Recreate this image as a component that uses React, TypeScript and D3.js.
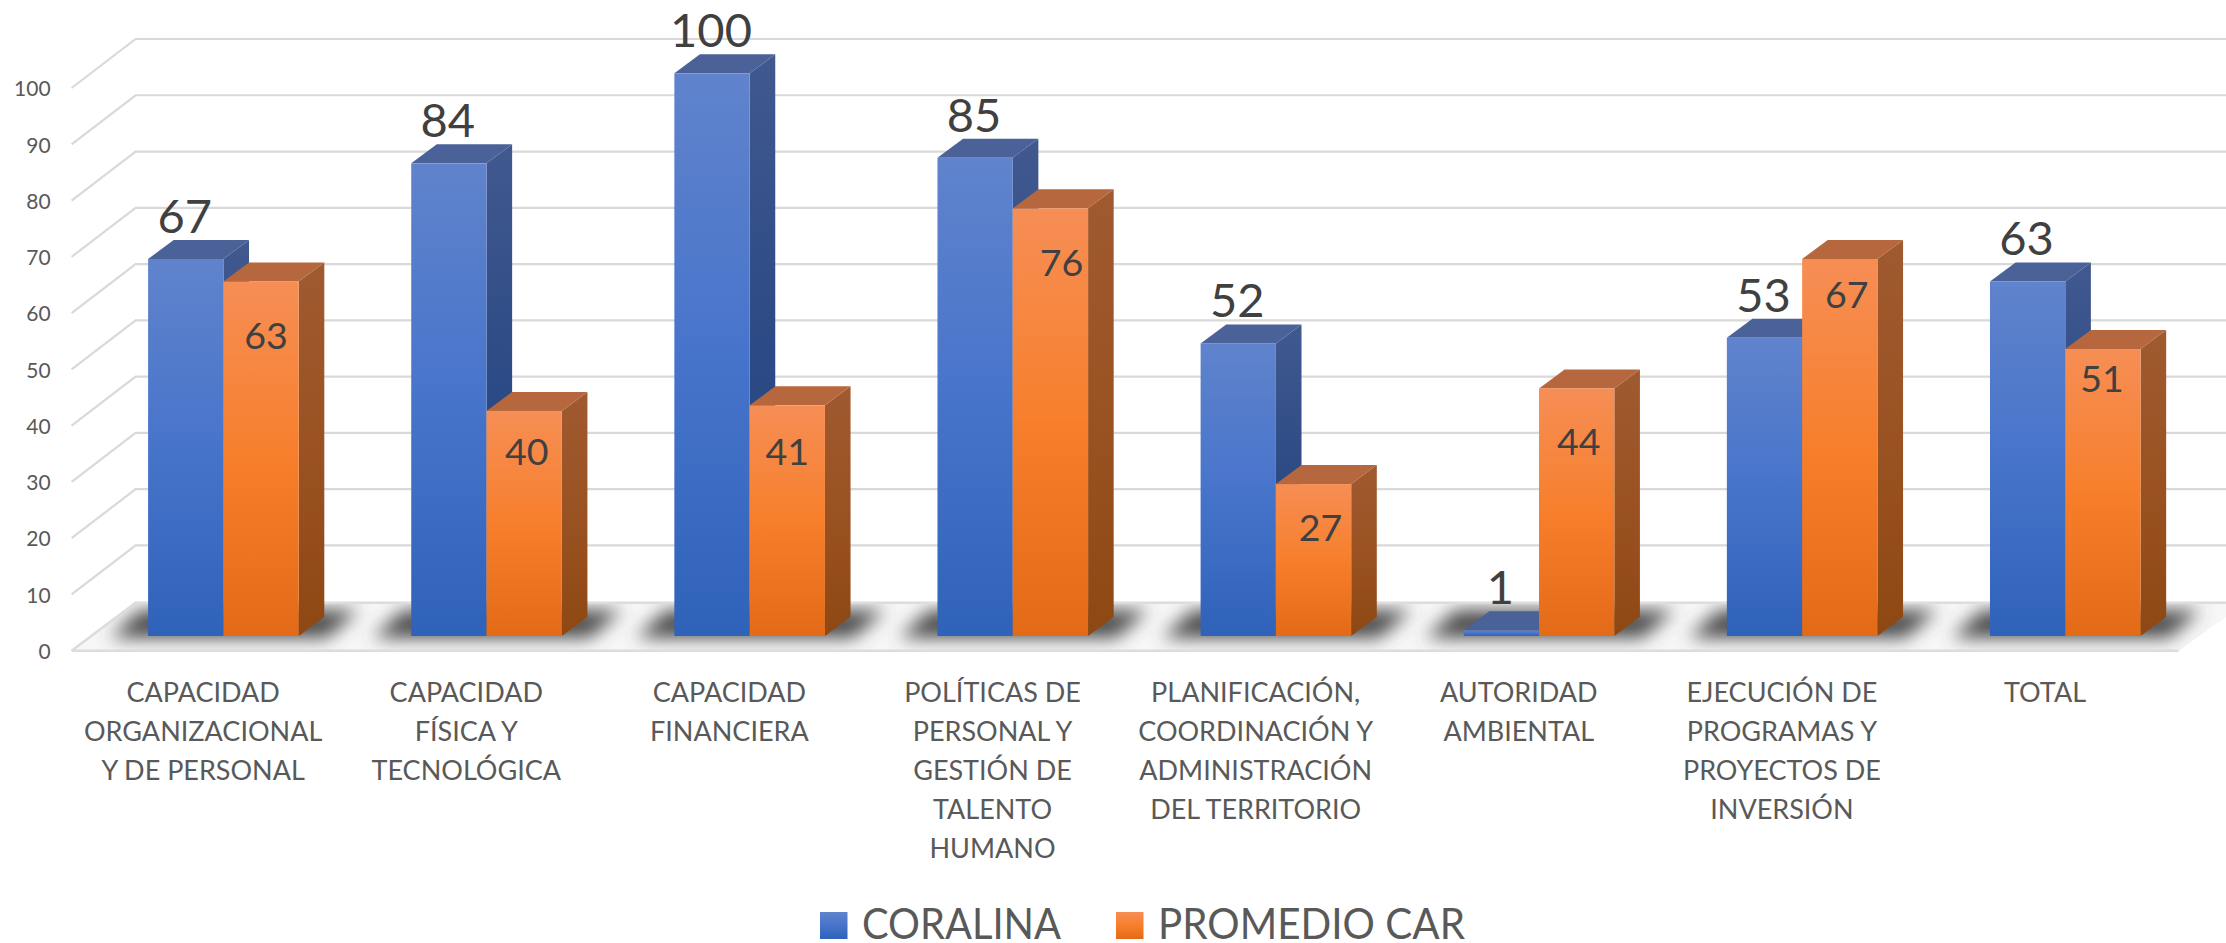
import React, { useEffect, useRef } from "react";
import * as d3 from "d3";

const categories = [
	["CAPACIDAD", "ORGANIZACIONAL", "Y DE PERSONAL"],
	["CAPACIDAD", "FÍSICA Y", "TECNOLÓGICA"],
	["CAPACIDAD", "FINANCIERA"],
	["POLÍTICAS DE", "PERSONAL Y", "GESTIÓN DE", "TALENTO", "HUMANO"],
	["PLANIFICACIÓN,", "COORDINACIÓN Y", "ADMINISTRACIÓN", "DEL TERRITORIO"],
	["AUTORIDAD", "AMBIENTAL"],
	["EJECUCIÓN DE", "PROGRAMAS Y", "PROYECTOS DE", "INVERSIÓN"],
	["TOTAL"],
];
const coralina = [67, 84, 100, 85, 52, 1, 53, 63];
const promedioCar = [63, 40, 41, 76, 27, 44, 67, 51];
const yTicks = [0, 10, 20, 30, 40, 50, 60, 70, 80, 90, 100];
const seriesNames = ["CORALINA", "PROMEDIO CAR"];

const FONT = "Lato, Carlito, 'Open Sans', sans-serif";
const width = 2226;
const height = 943;
const unit = 5.627; // px per value unit
const floorY = 650.7;
const floorLeft = 71.6;
const floorRight = 2176.6;
const wallDx = 64;
const wallDy = -49;
const barBase = 636;
const barW = 75.3;
const barDx = 25.6;
const barDy = -19;
const barInset = 76.5; // from band start to first bar

// hand placement of the labels inside the orange bars, [dx, drop from bar top]
const orangeLabelNudge = [[5, 67.5], [2.5, 54], [0, 60], [11, 68], [7, 57], [2, 67], [7, 49], [-1, 43]];

const palette = [
	{ front: ["#6083cc", "#4774cb", "#2f62b9"], side: ["#41598f", "#2c4a85", "#24437f"], top: "#4a6298" },
	{ front: ["#f68e55", "#f77f2c", "#e36a17"], side: ["#a05a30", "#9a5222", "#8e4813"], top: "#b7673d" },
];

export default function App() {
	const ref = useRef<SVGSVGElement | null>(null);

	useEffect(() => {
		const svg = d3.select(ref.current);
		svg.selectAll("*").remove();

		const x = d3.scaleBand<number>().domain(d3.range(categories.length)).range([floorLeft, floorRight]);
		const yWall = d3.scaleLinear().domain([0, 100]).range([floorY, floorY - 100 * unit]);
		const yBar = d3.scaleLinear().domain([0, 100]).range([barBase, barBase - 100 * unit]);
		const inner = d3.scaleBand<number>().domain([0, 1]).range([0, barW * 2]);

		const defs = svg.append("defs");
		palette.forEach((p, i) => {
			["front", "side"].forEach((face) => {
				const grad = defs.append("linearGradient")
					.attr("id", `${face}${i}`)
					.attr("x1", 0).attr("y1", 0).attr("x2", 0).attr("y2", 1);
				p[face].forEach((c, k) => {
					grad.append("stop").attr("offset", k / 2).attr("stop-color", c);
				});
			});
		});
		defs.append("filter")
			.attr("id", "floorBlur")
			.attr("filterUnits", "userSpaceOnUse")
			.attr("x", 0).attr("y", 560).attr("width", width).attr("height", 130)
			.append("feGaussianBlur").attr("stdDeviation", 9);

		const floorPoints: [number, number][] = [
			[floorLeft, floorY],
			[floorLeft + wallDx, floorY + wallDy + 1],
			[width + 20, floorY + wallDy + 1],
			[floorRight + 2, floorY],
		];
		defs.append("clipPath").attr("id", "floorClip")
			.append("path").attr("d", d3.line()(floorPoints) + "Z");

		const plot = svg.append("g");

		// walls
		const grid = plot.append("g")
			.attr("fill", "none").attr("stroke", "#d9d9d9").attr("stroke-width", 2.2);
		yTicks.forEach((t) => {
			const y0 = yWall(t);
			if (t === 0) return;
			grid.append("path").attr("d", d3.line()([
				[floorLeft, y0],
				[floorLeft + wallDx, y0 + wallDy],
				[width, y0 + wallDy],
			]));
		});

		// floor
		plot.append("path")
			.attr("fill", "#f7f7f7")
			.attr("d", d3.line()(floorPoints) + "Z");

		// floor shadows, one per group
		const shadows = plot.append("g")
			.attr("clip-path", "url(#floorClip)")
			.append("g")
			.attr("fill", "#4c4c4c").attr("filter", "url(#floorBlur)");
		categories.forEach((_, i) => {
			const left = x(i) + barInset - 38;
			const right = left + barW * 2 + 66;
			shadows.append("path").attr("d", d3.line()([
				[left, barBase + 2],
				[left + 30, barBase - 26],
				[right + 32, barBase - 26],
				[right, barBase + 2],
			]) + "Z");
		});

		plot.append("path")
			.attr("fill", "none").attr("stroke", "#dcdcdc").attr("stroke-width", 2.6)
			.attr("d", d3.line()(floorPoints.slice(0, 3)));
		plot.append("path")
			.attr("fill", "none").attr("stroke", "#dcdcdc").attr("stroke-width", 2.6)
			.attr("d", d3.line()([floorPoints[0], floorPoints[3]]));

		// bars, blue then orange in each group
		categories.forEach((_, i) => {
			[coralina, promedioCar].forEach((values, s) => {
				const v = values[i];
				const bx = x(i) + barInset + inner(s);
				const by = yBar(v);
				const g = plot.append("g");
				g.append("path").attr("fill", `url(#side${s})`).attr("d", d3.line()([
					[bx + barW, by],
					[bx + barW + barDx, by + barDy],
					[bx + barW + barDx, barBase + barDy],
					[bx + barW, barBase],
				]) + "Z");
				g.append("path").attr("fill", palette[s].top).attr("d", d3.line()([
					[bx, by],
					[bx + barDx, by + barDy],
					[bx + barW + barDx, by + barDy],
					[bx + barW, by],
				]) + "Z");
				g.append("rect")
					.attr("x", bx).attr("y", by)
					.attr("width", barW).attr("height", barBase - by)
					.attr("fill", `url(#front${s})`);
			});
		});

		// data labels
		const labels = plot.append("g").attr("font-family", FONT).attr("fill", "#404040").attr("text-anchor", "middle");
		categories.forEach((_, i) => {
			labels.append("text")
				.attr("x", x(i) + barInset + inner(0) + barW / 2 - 1)
				.attr("y", yBar(coralina[i]) - 26)
				.attr("font-size", 47)
				.text(coralina[i]);
			labels.append("text")
				.attr("x", x(i) + barInset + inner(1) + barW / 2 + orangeLabelNudge[i][0])
				.attr("y", yBar(promedioCar[i]) + orangeLabelNudge[i][1])
				.attr("font-size", 37.5)
				.text(promedioCar[i]);
		});

		// value axis
		const axis = svg.append("g")
			.attr("transform", `translate(${floorLeft - 21},1)`)
			.call(d3.axisLeft(yWall).tickValues(yTicks).tickSize(0).tickPadding(0));
		axis.select(".domain").remove();
		axis.selectAll("text")
			.attr("font-family", FONT).attr("font-size", 21).attr("fill", "#595959");

		// category labels
		const catAxis = svg.append("g").attr("font-family", FONT).attr("font-size", 27)
			.attr("fill", "#595959").attr("text-anchor", "middle");
		categories.forEach((lines, i) => {
			lines.forEach((line, k) => {
				catAxis.append("text")
					.attr("x", x(i) + x.bandwidth() / 2)
					.attr("y", 702 + k * 39)
					.text(line);
			});
		});

		// legend
		const legend = svg.append("g").attr("font-family", FONT).attr("font-size", 42).attr("fill", "#595959");
		const legendX = [820, 1116];
		const legendTextW = [199, 307];
		seriesNames.forEach((name, s) => {
			legend.append("rect")
				.attr("x", legendX[s]).attr("y", 912)
				.attr("width", 27.5).attr("height", 27)
				.attr("fill", `url(#front${s})`);
			legend.append("text")
				.attr("x", legendX[s] + 42).attr("y", 939)
				.attr("textLength", legendTextW[s])
				.attr("lengthAdjust", "spacingAndGlyphs")
				.text(name);
		});
	}, []);

	return (
		<svg
			ref={ref}
			width={width}
			height={height}
			style={{ position: "absolute", left: 0, top: 0, display: "block", background: "#fff" }}
		/>
	);
}
